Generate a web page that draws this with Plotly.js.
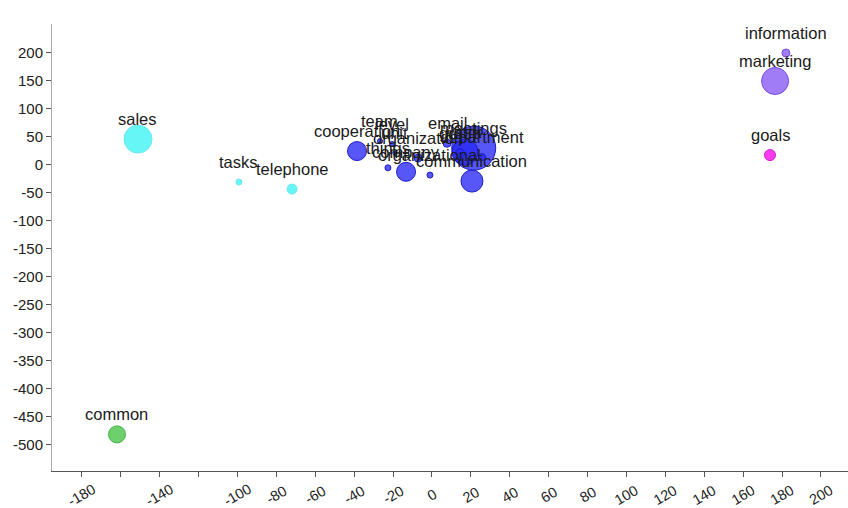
<!DOCTYPE html>
<html>
<head>
<meta charset="utf-8">
<script src="https://cdn.plot.ly/plotly-3.0.1.min.js"></script>
<style>html,body{margin:0;padding:0;background:#fff;}#chart{width:848px;height:508px;}</style>
</head>
<body>
<div id="chart"></div>
<script>
// ---- data ----
const words  = ["sales","tasks","telephone","common","information","marketing","goals",
                "cooperation","team","level","unit","things","company","organization","organizational",
                "email","meetings","group","department","work","communication"];
const xVals  = [-151.1,-99.2,-71.9,-161.9,182.0,176.4,173.8,
                -38.5,-26.7,-20.5,-19.0,-22.6,-13.3,-7.1,-1.0,
                7.8,21.5,14.5,25.8,17.0,20.6];
const yVals  = [45.0,-31.8,-44.3,-482.3,198.7,148.7,16.4,
                23.6,41.5,36.1,20.0,-6.3,-13.4,11.1,-19.3,
                37.5,28.9,20.0,12.9,21.8,-30.0];
const weights= [28,6,10,17,8,27,11,
                19,5,5,4,6,19,8,6,
                8,44,9,7,26,22];
const groups = ["cyan","cyan","cyan","green","purple","purple","magenta",
                "blue","blue","blue","blue","blue","blue","blue","blue",
                "blue","blue","blue","blue","blue","blue"];
const xTickVals   = [-180,-160,-140,-120,-100,-80,-60,-40,-20,0,20,40,60,80,100,120,140,160,180,200];
const xTickLabels = ["-180","","-140","","-100","-80","-60","-40","-20","0","20","40","60","80","100","120","140","160","180","200"];
const yTickVals   = [200,150,100,50,0,-50,-100,-150,-200,-250,-300,-350,-400,-450,-500];

// ---- styles ----
const groupStyle = {
  cyan:    {fill:"rgba(95,245,245,0.95)",  line:"rgba(110,230,240,1)"},
  green:   {fill:"rgba(100,205,100,0.95)", line:"rgba(70,180,70,1)"},
  purple:  {fill:"rgba(150,110,245,0.9)",  line:"rgba(120,75,230,1)"},
  magenta: {fill:"rgba(245,50,235,0.95)",  line:"rgba(215,25,205,1)"},
  blue:    {fill:"rgba(40,40,245,0.78)",   line:"rgba(30,30,200,1)"}
};
const labelFont = {family:"Liberation Sans, Arial, sans-serif", size:16.5, color:"#1a1a1a"};

// draw larger bubbles first
const order = weights.map((w,i)=>i).sort((a,b)=>weights[b]-weights[a]);
const trace = {
  type:"scatter", mode:"markers",
  x: order.map(i=>xVals[i]),
  y: order.map(i=>yVals[i]),
  marker:{
    size: order.map(i=>weights[i]),
    sizemode:"diameter",
    opacity:1,
    color: order.map(i=>groupStyle[groups[i]].fill),
    line:{width:1, color: order.map(i=>groupStyle[groups[i]].line)}
  },
  hoverinfo:"text", text: order.map(i=>words[i])
};

const annotations = [];
words.forEach((w,i)=>{
  annotations.push({x:xVals[i], y:yVals[i], xref:"x", yref:"y", text:w, showarrow:false,
    xanchor:"center", yanchor:"middle", yshift:20, font:labelFont});
});
xTickVals.forEach((v,i)=>{
  if(!xTickLabels[i]) return;
  annotations.push({x:v, y:0, xref:"x", yref:"paper", text:xTickLabels[i], showarrow:false,
    xanchor:"center", yanchor:"middle", yshift:-24, textangle:-30,
    font:{family:"Liberation Sans, Arial, sans-serif", size:14.5, color:"#222"}});
});

const layout = {
  width:848, height:508,
  margin:{l:52, r:0, t:24, b:37},
  paper_bgcolor:"#fff", plot_bgcolor:"#fff",
  showlegend:false,
  font:{family:"Liberation Sans, Arial, sans-serif", size:15, color:"#222"},
  xaxis:{range:[-195.3,213.9], showgrid:false, zeroline:false, showline:true,
    linecolor:"#555", linewidth:1, ticks:"outside", ticklen:5, tickcolor:"#555",
    tickvals:xTickVals, showticklabels:false, fixedrange:true},
  yaxis:{range:[-547.7,250.5], showgrid:false, zeroline:false, showline:true,
    linecolor:"#aaa", linewidth:1, ticks:"outside", ticklen:5, tickcolor:"#555",
    tickvals:yTickVals, ticktext:yTickVals.map(String),
    tickfont:{size:15, color:"#222"}, fixedrange:true},
  annotations:annotations
};

Plotly.newPlot("chart",[trace],layout,{displayModeBar:false, staticPlot:true});
</script>
</body>
</html>
